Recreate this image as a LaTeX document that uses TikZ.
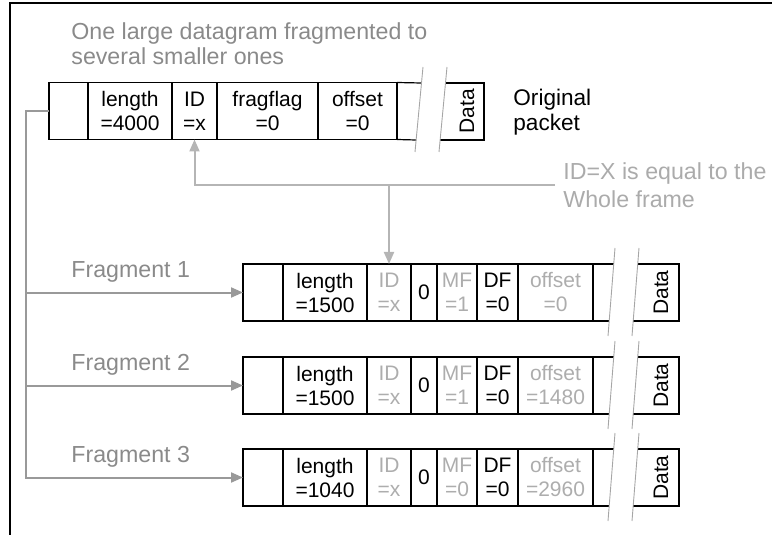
\documentclass[tikz,border=0pt]{standalone}
\usepackage{fontspec}
\setmainfont{Liberation Sans}
\usetikzlibrary{positioning,calc,arrows.meta}
\definecolor{treeGray}{HTML}{999999}
\definecolor{idGray}{HTML}{B5B5B5}
\definecolor{noteGray}{HTML}{8A8A8A}
\definecolor{noteLight}{HTML}{ABABAB}
\definecolor{fieldGray}{HTML}{ADADAD}
\definecolor{cutGray}{HTML}{A6A6A6}

\tikzset{
  boxline/.style={line width=0.6pt},
  cell/.style={draw, boxline, inner sep=0pt, outer sep=0pt,
    minimum height=28.5pt, align=center,
    font=\fontsize{10.5}{12}\selectfont},
  faded/.style={text=fieldGray},
  datatext/.style={rotate=90, inner sep=0pt, font=\fontsize{10.5}{12}\selectfont},
  cut/.style={cutGray, line width=0.45pt},
  note/.style={text=noteGray, inner sep=0pt, align=left,
    font=\fontsize{11.6}{12.4}\selectfont},
  tree/.style={treeGray, line width=1pt, -{Triangle[length=6pt,width=5pt]}},
  idarrow/.style={idGray, line width=1pt, -{Triangle[length=6pt,width=5pt]}},
}

\begin{document}
\begin{tikzpicture}[x=0.5pt, y=-0.5pt]

% --- CANVAS (px grid, 772 x 535) ---
\useasboundingbox (0,0) rectangle (772,535);
\draw[line width=0.6pt] (10,535) -- (10,3) -- (772,3);

% --- TITLE ---
\node[note, anchor=west] (title) at (71,44)
  {One large datagram fragmented to\\several smaller ones};

% --- ORIGINAL PACKET ---
\node[cell, minimum width=19.5pt, anchor=west] (o0) at (49,111) {};
\node[cell, minimum width=42pt, right=0pt of o0] (olen) {length\\=4000};
\node[cell, minimum width=22.5pt, right=0pt of olen] (oid) {ID\\=x};
\node[cell, minimum width=50.5pt, right=0pt of oid] (oflag) {fragflag\\=0};
\node[cell, minimum width=39.5pt, right=0pt of oflag] (ooff) {offset\\=0};
\draw[boxline] (ooff.north east) -- (421.5,83);
\draw[boxline] (ooff.south east) -- (416.2,140);
\draw[boxline] (445.5,83) -- (484,83) -- (484,140) -- (440.2,140);
\node[datatext] (odata) at (467,111) {Data};
\draw[cut] (423,67) -- (415,152);
\draw[cut] (447,67) -- (439,152);
\node[inner sep=0pt, align=left, anchor=west,
  font=\fontsize{11.3}{12.6}\selectfont] (orig) at (513,112) {Original\\packet};

% --- FRAGMENTS ---
% \k / top edge / length / MF / offset
\foreach \k/\T/\len/\mf/\off in {1/264/1500/1/0, 2/357/1500/1/1480, 3/449/1040/0/2960} {
  \pgfmathsetmacro\cy{\T + 28.5}
  \node[cell, minimum width=20pt, anchor=west] (f\k0) at (243,\cy) {};
  \node[cell, minimum width=42pt, right=0pt of f\k0] (f\k len) {length\\=\len};
  \node[cell, minimum width=22pt, faded, right=0pt of f\k len] (f\k id) {ID\\=x};
  \node[cell, minimum width=13pt, right=0pt of f\k id] (f\k zero) {0};
  \node[cell, minimum width=20pt, faded, right=0pt of f\k zero] (f\k mf) {MF\\=\mf};
  \node[cell, minimum width=20.5pt, right=0pt of f\k mf] (f\k df) {DF\\=0};
  \node[cell, minimum width=37.5pt, faded, right=0pt of f\k df] (f\k off) {offset\\=\off};
  \draw[boxline] (f\k off.north east) -- (613.7,\T);
  \draw[boxline] (f\k off.south east) -- (609.2,\T+57);
  \draw[boxline] (637.7,\T) -- (679,\T) -- (679,\T+57) -- (633.2,\T+57);
  \node[datatext] (f\k data) at (661,\cy) {Data};
  \draw[cut] (615,\T-16) -- (608,\T+72);
  \draw[cut] (639,\T-16) -- (632,\T+72);
  \node[note, anchor=west] (f\k lab) at (71,\T+8) {Fragment \k};
}

% --- TREE CONNECTORS ---
\coordinate (trunk) at (26,111);
\foreach \k in {1,2,3}
  \draw[tree] (o0.west) -- (trunk) |- (f\k0.west);

% --- ID NOTE ---
\node[note, text=noteLight, anchor=west,
  font=\fontsize{11.6}{14}\selectfont] (idnote) at (563,185)
  {ID=X is equal to the\\Whole frame};
\draw[idarrow] ([xshift=-4pt]idnote.west) -| (oid.south);
\draw[idarrow] (f1id.north |- idnote.west) -- (f1id.north);

\end{tikzpicture}
\end{document}
